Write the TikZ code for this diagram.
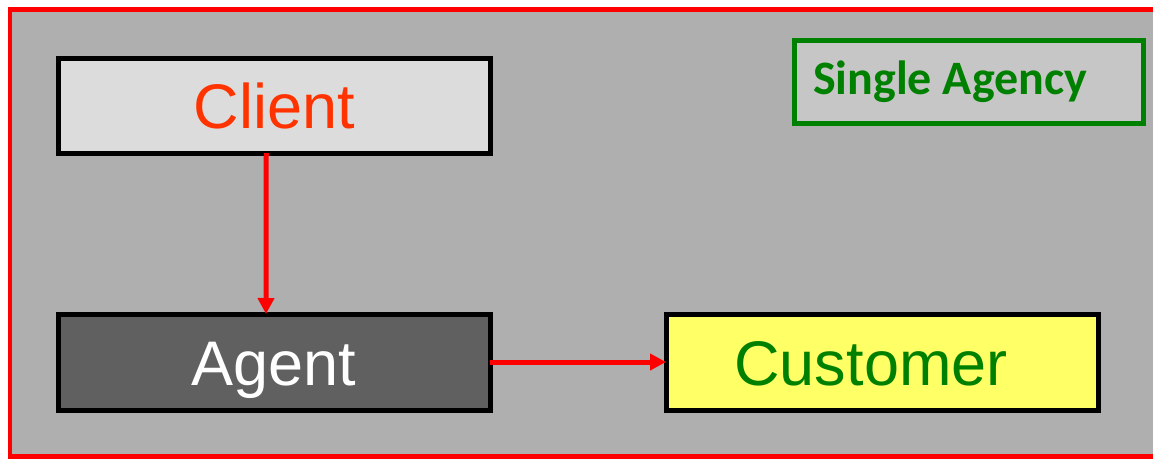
\documentclass[tikz,border=0pt]{standalone}
\usepackage{fontspec}
\setmainfont{Liberation Sans}
\newfontfamily\calfont{Carlito}
\usetikzlibrary{arrows.meta}
\definecolor{bggray}{HTML}{AFAFAF}
\definecolor{clientfill}{HTML}{DCDCDC}
\definecolor{clienttext}{HTML}{FF3300}
\definecolor{agentfill}{HTML}{606060}
\definecolor{custfill}{HTML}{FFFF66}
\definecolor{darkgreen}{HTML}{008000}
\definecolor{labelfill}{HTML}{C6C6C6}
\tikzset{
  bigbox/.style={draw=black, line width=5pt, inner sep=0pt, outer sep=0pt,
    minimum width=432pt, minimum height=96pt,
    font=\fontsize{63}{70}\selectfont, text height=46pt, text depth=0pt},
  tagbox/.style={draw=darkgreen, fill=labelfill, line width=5pt, inner sep=0pt, outer sep=0pt,
    minimum width=349pt, minimum height=83pt, text=darkgreen,
    font=\calfont\bfseries\fontsize{48}{54}\selectfont, text height=31pt, text depth=7pt},
  redarrow/.style={draw=red, line width=5pt, -{Triangle[length=16pt,width=16pt]}}
}
\begin{document}
\begin{tikzpicture}[x=1pt, y=-1pt]
\useasboundingbox (0,0) rectangle (1153,458);
\fill[bggray] (10,9.5) rectangle (1153,458);
\draw[red, line width=4.5pt] (1153,9.5) -- (10,9.5) -- (10,456.5) -- (1153,456.5);

\node[bigbox, fill=clientfill, text=clienttext, minimum height=94.5pt, minimum width=431.5pt] (client) at (274.25,105.75) {Client};
\node[bigbox, fill=agentfill, text=white] (agent) at (274,362) {Agent};
\node[bigbox, fill=custfill, text=darkgreen] (customer) at (882,362) {\hspace*{-22pt}Customer};
\node[tagbox] (tag) at (969,82) {\hspace*{-38pt}Single Agency};

\draw[redarrow] ([xshift=-8pt]client.south) -- ([xshift=-8pt]agent.north);
\draw[redarrow] (agent.east) -- (customer.west);
\end{tikzpicture}
\end{document}
